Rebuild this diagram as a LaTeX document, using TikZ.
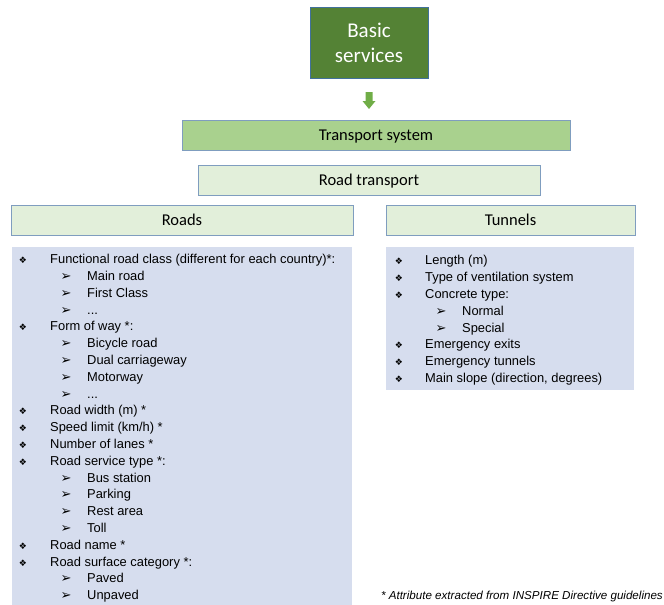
\documentclass[tikz,border=0pt]{standalone}
\usepackage{fontspec}
\setmainfont{Carlito}
\newfontfamily\arialfont{Liberation Sans}
\newfontfamily\dingfont{DejaVu Sans}

\definecolor{darkgreen}{HTML}{548235}
\definecolor{midgreen}{HTML}{A9D18E}
\definecolor{palegreen}{HTML}{E2EFDA}
\definecolor{arrowgreen}{HTML}{70AD47}
\definecolor{listblue}{HTML}{D6DDEE}
\definecolor{boxline}{HTML}{7F9DBF}
\definecolor{topline}{HTML}{41719C}

\tikzset{
  headbox/.style={draw=boxline, line width=0.9pt, inner sep=0pt, text height=13pt, text depth=2.6pt,
    font=\fontsize{16.5}{19}\selectfont},
  listbox/.style={fill=listblue, draw=none, inner sep=0pt},
  itemtext/.style={anchor=base west, inner sep=0pt, font=\arialfont\fontsize{12.9}{15}\selectfont},
  bulletsign/.style={anchor=base, inner sep=0pt, font=\dingfont\fontsize{9}{10}\selectfont},
  arrowsign/.style={anchor=base, inner sep=0pt, font=\dingfont\fontsize{13}{14}\selectfont},
}

\begin{document}
\begin{tikzpicture}[x=1pt, y=-1pt]
\useasboundingbox (0,0) rectangle (664,605);

% top block
\node[draw=topline, line width=0.9pt, fill=darkgreen, text=white, minimum width=118pt, minimum height=71pt,
  align=center, font=\fontsize{21}{25}\selectfont, inner sep=0pt] (basic) at (369,42.5) {Basic\\services};

\node[headbox, fill=midgreen, minimum width=388pt, minimum height=30pt] (transport) at (376,135) {Transport system};
\node[headbox, fill=palegreen, minimum width=342pt, minimum height=30pt] (road) at (369,180) {Road transport};
\node[headbox, fill=palegreen, minimum width=342pt, minimum height=30pt] (roads) at (182,220) {Roads};
\node[headbox, fill=palegreen, minimum width=249pt, minimum height=30pt] (tunnels) at (510.5,220) {Tunnels};

% block arrow pointing from the top block down to the transport system bar
\coordinate (arr) at (369,92);
\fill[arrowgreen] (arr) ++(-3.5,0) -- ++(7,0) -- ++(0,9) -- ++(3,0) -- ++(-6.5,8) -- ++(-6.5,-8) -- ++(3,0) -- cycle;

% attribute panels
\node[listbox, minimum width=340pt, minimum height=358pt] (roadlist) at (182,426) {};
\node[listbox, minimum width=248pt, minimum height=143pt] (tunnellist) at (510,318.5) {};

% road attributes
\foreach \lvl/\txt [count=\i from 0] in {
  1/{Functional road class (different for each country)*:},
  2/{Main road}, 2/{First Class}, 2/{...},
  1/{Form of way *:},
  2/{Bicycle road}, 2/{Dual carriageway}, 2/{Motorway}, 2/{...},
  1/{Road width (m) *}, 1/{Speed limit (km/h) *}, 1/{Number of lanes *},
  1/{Road service type *:},
  2/{Bus station}, 2/{Parking}, 2/{Rest area}, 2/{Toll},
  1/{Road name *},
  1/{Road surface category *:},
  2/{Paved}, 2/{Unpaved}} {
  \pgfmathsetmacro{\yy}{263.6+16.8*\i}
  \ifnum\lvl=1
    \node[bulletsign] (rb\i) at (23,\yy) {❖};
    \node[itemtext] (r\i) at (50,\yy) {\txt};
  \else
    \node[arrowsign] (rb\i) at (66,\yy) {➢};
    \node[itemtext] (r\i) at (87,\yy) {\txt};
  \fi
}

% tunnel attributes
\foreach \lvl/\txt [count=\i from 0] in {
  1/{Length (m)}, 1/{Type of ventilation system}, 1/{Concrete type:},
  2/{Normal}, 2/{Special},
  1/{Emergency exits}, 1/{Emergency tunnels},
  1/{Main slope (direction, degrees)}} {
  \pgfmathsetmacro{\yy}{264.6+16.85*\i}
  \ifnum\lvl=1
    \node[bulletsign] (tb\i) at (399,\yy) {❖};
    \node[itemtext] (t\i) at (425,\yy) {\txt};
  \else
    \node[arrowsign] (tb\i) at (441,\yy) {➢};
    \node[itemtext] (t\i) at (462,\yy) {\txt};
  \fi
}

\node[anchor=base east, inner sep=0pt, font=\arialfont\itshape\fontsize{11.6}{13}\selectfont] (note) at (663,599)
  {* Attribute extracted from INSPIRE Directive guidelines};
\end{tikzpicture}
\end{document}
